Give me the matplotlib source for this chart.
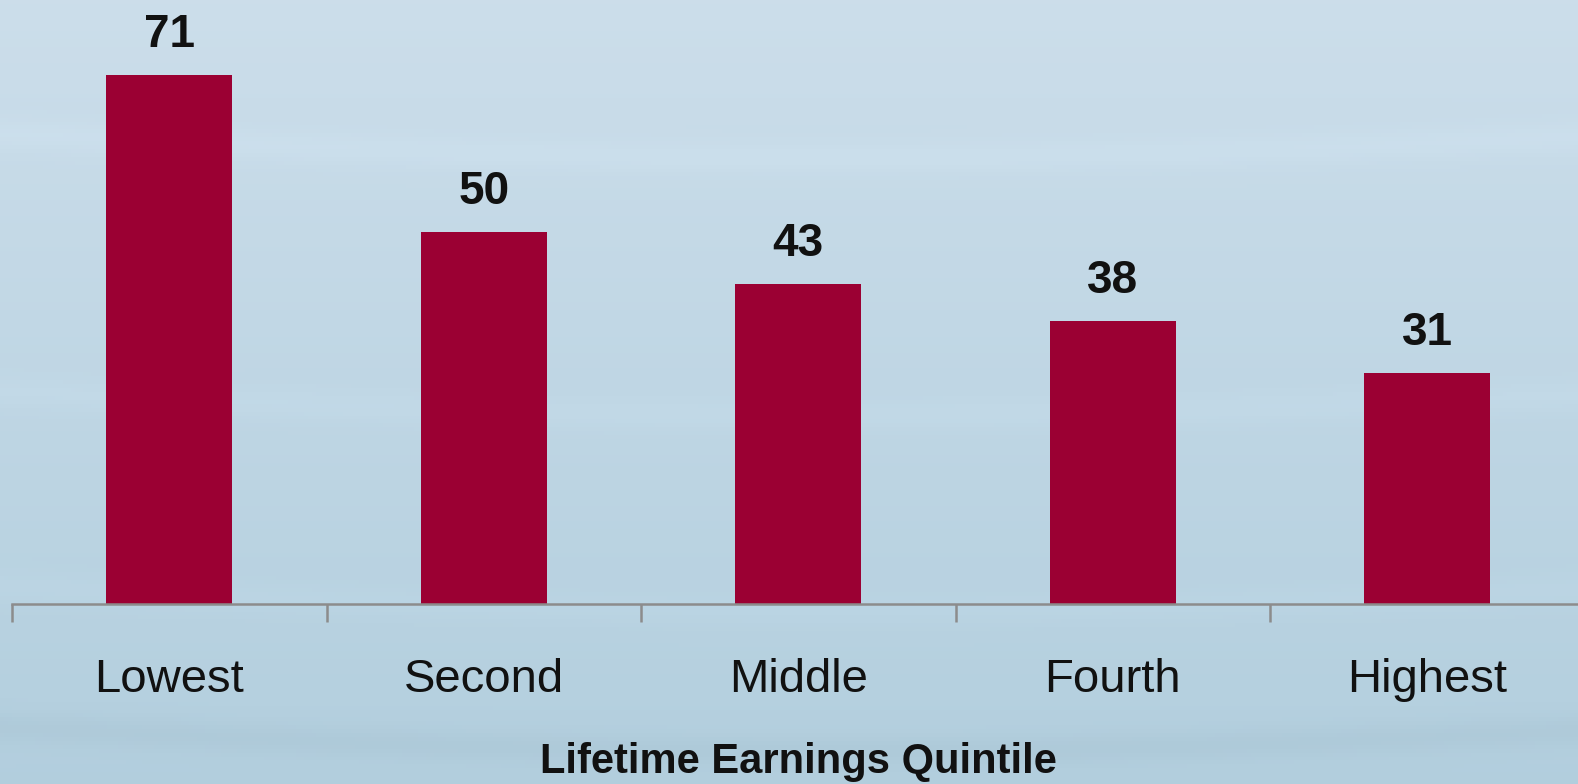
import numpy as np
import matplotlib.pyplot as plt

plt.rcParams['font.family'] = ['Liberation Sans', 'DejaVu Sans']

categories = ["Lowest", "Second", "Middle", "Fourth", "Highest"]
values = [71, 50, 43, 38, 31]
xlabel = "Lifetime Earnings Quintile"

W, H = 1578, 784
fig = plt.figure(figsize=(W / 100, H / 100), dpi=100)

# soft blue background with faint horizontal streaks
bg = fig.add_axes([0, 0, 1, 1])
yy, xx = np.mgrid[0:1:200j, 0:1:400j]
top = np.array([0.80, 0.87, 0.92])
bot = np.array([0.70, 0.81, 0.87])
img = top * (1 - yy[..., None]) + bot * yy[..., None]
for c, a in [(0.17, 0.015), (0.50, 0.012), (0.75, 0.010), (0.93, -0.02)]:
    band = np.exp(-((yy - c - 0.03 * np.sin(xx * 3.0)) / 0.02) ** 2)
    img = img + a * band[..., None]
bg.imshow(np.clip(img, 0, 1), aspect="auto", extent=[0, 1, 0, 1])
bg.axis("off")

left = 12 / W
step = 314.5 / W
bottom = 1 - 604 / H
ax = fig.add_axes([left, bottom, step * 5, 1 - bottom])
ax.patch.set_alpha(0)

x = np.arange(len(categories))
ax.bar(x, values, width=0.40, color="#9B0033")
ax.set_xlim(-0.5, 4.5)
ax.set_ylim(0, 604 / 7.45)

for xi, v in zip(x, values):
    ax.annotate(str(v), (xi, v), xytext=(0, 18), textcoords="offset pixels",
                ha="center", va="bottom", fontsize=33, fontweight="bold", color="#111111")

for s in ["top", "right", "left"]:
    ax.spines[s].set_visible(False)
ax.spines["bottom"].set_color("#8C8C8C")
ax.spines["bottom"].set_linewidth(1.8)
ax.set_yticks([])
ax.set_xticks(x)
ax.set_xticklabels(categories, fontsize=34, color="#111111")
ax.tick_params(axis="x", which="major", length=0, pad=39)
ax.set_xticks(np.arange(-0.5, 5, 1), minor=True)
ax.tick_params(axis="x", which="minor", length=13, width=1.8, color="#8C8C8C")
ax.set_xlabel(xlabel, fontsize=30, fontweight="bold", color="#111111", labelpad=29)

fig.savefig("out.png", dpi=100)
